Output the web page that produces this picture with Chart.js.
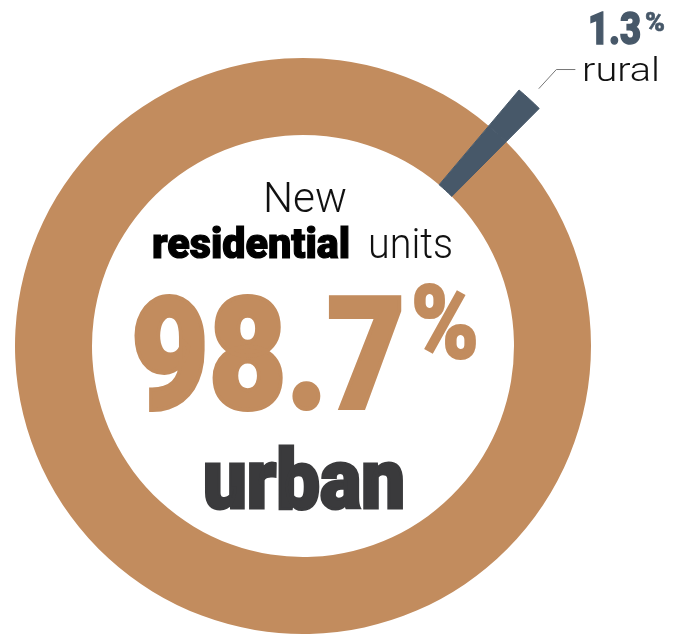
<!DOCTYPE html>
<html>
<head>
    <meta charset="utf-8">
    <title>New residential units</title>
    <script src="https://cdn.jsdelivr.net/npm/chart.js"></script>
    <style>
        html, body { margin: 0; padding: 0; width: 678px; height: 634px; overflow: hidden; background: #fff; }
        #wrap { position: absolute; left: -37px; top: 6px; width: 680px; height: 680px; }
        .lbl { position: absolute; left: 0; top: 0; white-space: nowrap; line-height: 1; transform-origin: 0 0;
               font-family: Roboto, "Noto Sans", "DejaVu Sans", sans-serif; }
    </style>
</head>
<body>
    <div id="wrap"><canvas id="ringChart" width="680" height="680"></canvas></div>

    <div class="lbl" id="tNew" style="font-weight:300;font-size:42px;color:#111">New</div>
    <div class="lbl" id="tRes" style="font-weight:900;font-size:43px;color:#000;-webkit-text-stroke:1.2px #000">residential</div>
    <div class="lbl" id="tUnits" style="font-weight:300;font-size:42px;color:#111">units</div>
    <div class="lbl" id="tBig" style="font-weight:900;font-size:155px;color:#C28C5E;-webkit-text-stroke:4px #C28C5E"></div>
    <div class="lbl" id="tBigPct" style="font-weight:900;font-size:102px;color:#C28C5E;-webkit-text-stroke:2px #C28C5E">%</div>
    <div class="lbl" id="tUrban" style="font-weight:900;font-size:84px;color:#3A3A3C;-webkit-text-stroke:3px #3A3A3C"></div>
    <div class="lbl" id="tSmall" style="font-weight:900;font-size:44px;color:#475869;-webkit-text-stroke:1.5px #475869"></div>
    <div class="lbl" id="tSmallPct" style="font-weight:900;font-size:26px;color:#475869;-webkit-text-stroke:0.6px #475869">%</div>
    <div class="lbl" id="tRural" style="font-weight:300;font-size:34px;color:#111">rural</div>

    <script>
        // data
        const categories = ['urban', 'rural'];
        const shares = [98.7, 1.3];
        const sliceColors = ['#C28C5E', '#475869'];

        // ring geometry (px)
        const outerR = 335;   // tip of the rural slice
        const ringR = 288;    // outer edge of the main ring
        const innerR = 211;   // hole

        // start angle so the rural slice sits at about 42.5 deg
        const rotation = 42.5 - (shares[0] + shares[1] / 2) / 100 * 360;

        // leader line from rural slice to its label
        const leaderLine = {
            id: 'leaderLine',
            afterDraw(chart) {
                const arc = chart.getDatasetMeta(0).data[1];
                const mid = (arc.startAngle + arc.endAngle) / 2;
                const c = chart.ctx;
                const x1 = arc.x + Math.cos(mid) * (arc.outerRadius + 14);
                const y1 = arc.y + Math.sin(mid) * (arc.outerRadius + 14);
                const x2 = arc.x + Math.cos(mid) * (arc.outerRadius + 40);
                const y2 = arc.y + Math.sin(mid) * (arc.outerRadius + 40);
                c.save();
                c.strokeStyle = '#777';
                c.lineWidth = 1;
                c.beginPath();
                c.moveTo(x1, y1);
                c.lineTo(x2, y2);
                c.lineTo(x2 + 19, y2);
                c.stroke();
                c.restore();
            }
        };

        new Chart(document.getElementById('ringChart'), {
            type: 'doughnut',
            data: {
                labels: categories,
                datasets: [
                    {
                        data: shares,
                        backgroundColor: ['rgba(0,0,0,0)', sliceColors[1]],
                        borderColor: ['rgba(0,0,0,0)', sliceColors[1]],
                        borderWidth: [0, 1],
                        weight: outerR - ringR
                    },
                    {
                        data: shares,
                        backgroundColor: sliceColors,
                        borderColor: sliceColors,
                        borderWidth: [0, 1],
                        weight: ringR - innerR
                    }
                ]
            },
            options: {
                responsive: false,
                animation: false,
                events: [],
                rotation: rotation,
                radius: outerR,
                cutout: (innerR / outerR * 100) + '%',
                layout: { padding: 0 },
                plugins: {
                    legend: { display: false },
                    tooltip: { enabled: false }
                }
            },
            plugins: [leaderLine]
        });

        // texts
        document.getElementById('tBig').textContent = shares[0].toFixed(1);
        document.getElementById('tUrban').textContent = categories[0];
        document.getElementById('tSmall').textContent = shares[1].toFixed(1);
        document.getElementById('tRural').textContent = categories[1];

        // put a label's baseline at y and stretch it to the given width
        function place(id, left, baseline, width) {
            const el = document.getElementById(id);
            const probe = document.createElement('span');
            probe.style.cssText = 'display:inline-block;width:0;height:0';
            el.appendChild(probe);
            const box = el.getBoundingClientRect();
            const base = probe.getBoundingClientRect().top - box.top;
            el.style.left = left + 'px';
            el.style.top = (baseline - base) + 'px';
            el.style.transform = 'scaleX(' + (width / box.width) + ')';
        }

        document.fonts.ready.then(() => {
            place('tNew', 263, 212, 84);
            place('tRes', 152, 258, 198);
            place('tUnits', 368, 258, 85);
            place('tBig', 131, 408, 274);
            place('tBigPct', 411, 358, 68);
            place('tUrban', 203, 508, 202);
            place('tSmall', 588, 44, 53);
            place('tSmallPct', 645, 31, 20);
            place('tRural', 582, 81, 78);
        });
    </script>
</body>
</html>
